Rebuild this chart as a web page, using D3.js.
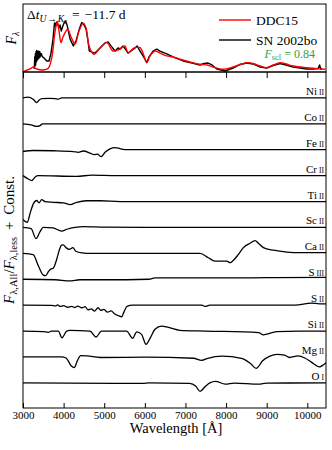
<!DOCTYPE html>
<html>
<head>
<meta charset="utf-8">
<script src="https://cdn.jsdelivr.net/npm/d3@7"></script>
<style>
  body { margin: 0; background: #fff; }
  svg text { font-family: "Liberation Serif", "DejaVu Serif", serif; }
</style>
</head>
<body>
<div id="chart"></div>
<script>
// wavelength ticks
var wlTicks = [3000, 4000, 5000, 6000, 7000, 8000, 9000, 10000];

// top panel, model and observed spectrum [wavelength, flux]
var ddc15 = [[3007,0.006],[3172,0.059],[3254,0.098],[3337,0.059],[3500,0.039],[3623,0.073],[3707,0.275],
  [3788,0.78],[3845,0.986],[3887,0.80],[3936,0.575],[3985,0.686],[4101,0.837],[4182,0.686],[4281,0.549],
  [4379,0.80],[4485,0.955],[4552,0.863],[4626,0.51],[4749,0.347],[4897,0.47],[5062,0.575],[5217,0.41],
  [5389,0.45],[5512,0.51],[5586,0.378],[5734,0.47],[5882,0.476],[5980,0.314],[6047,0.182],[6128,0.314],
  [6251,0.41],[6374,0.37],[6539,0.314],[6695,0.294],[6867,0.249],[7113,0.196],[7360,0.151],[7532,0.137],
  [7680,0.098],[7926,0.053],[8172,0.098],[8345,0.147],[8510,0.182],[8665,0.167],[8837,0.118],[9002,0.084],
  [9158,0.137],[9330,0.182],[9478,0.157],[9650,0.118],[9987,0.084],[10192,0.069],[10438,0.053]];

var sn2002bo = [[3278,0.059],[3290,0.30],[3298,0.12],[3306,0.36],[3313,0.14],[3321,0.40],[3328,0.20],
  [3337,0.42],[3345,0.22],[3354,0.38],[3362,0.25],[3372,0.41],[3382,0.26],[3391,0.39],[3401,0.28],
  [3410,0.40],[3419,0.29],[3430,0.37],[3443,0.32],[3455,0.36],[3468,0.31],[3517,0.275],[3584,0.216],
  [3640,0.216],[3690,0.37],[3739,0.647],[3776,0.96],[3800,0.90],[3825,0.98],[3850,0.94],[3870,0.90],
  [3887,0.863],[3911,0.92],[3943,0.80],[3973,0.88],[4010,0.96],[4047,1.0],[4084,0.92],[4158,0.647],
  [4239,0.51],[4305,0.608],[4387,0.843],[4446,0.97],[4502,0.92],[4552,0.843],[4601,0.608],[4633,0.41],
  [4700,0.39],[4773,0.37],[4897,0.47],[5020,0.569],[5094,0.588],[5167,0.51],[5266,0.41],[5340,0.47],
  [5389,0.45],[5463,0.51],[5537,0.43],[5586,0.37],[5660,0.41],[5759,0.47],[5808,0.51],[5882,0.41],
  [5956,0.314],[6047,0.186],[6103,0.294],[6202,0.41],[6293,0.45],[6374,0.41],[6539,0.353],[6695,0.294],
  [6941,0.216],[7163,0.176],[7360,0.137],[7458,0.167],[7557,0.176],[7655,0.137],[7771,0.059],[7877,0.039],
  [7975,0.02],[8074,0.049],[8172,0.078],[8345,0.147],[8510,0.176],[8665,0.157],[8837,0.098],[9002,0.078],
  [9158,0.127],[9330,0.167],[9478,0.137],[9650,0.098],[9822,0.078],[9987,0.059],[10143,0.059],
  [10266,0.069],[10303,0.137],[10328,0.059],[10365,0.069]];

// bottom panel, flux ratios F_All / F_less [wavelength, ratio]
var niII = [[3000,1.0],[3120,1.03],[3250,0.95],[3337,0.82],[3400,0.92],[3461,0.97],[3665,0.98],[3790,0.97],
  [3870,0.95],[3953,1.0],[10500,1.0]];
var coII = [[3000,1.0],[3200,0.96],[3337,0.9],[3420,0.93],[3480,1.0],[10500,1.0]];
var feII = [[3000,0.93],[3254,0.97],[3746,0.96],[4239,0.93],[4362,0.9],[4485,0.95],[4650,0.87],[4749,0.81],
  [4830,0.83],[4921,0.73],[5020,0.9],[5143,1.03],[5266,1.08],[5389,1.04],[5554,1.0],[10500,1.0]];
var crII = [[3000,1.0],[3130,0.87],[3215,0.81],[3300,0.95],[3370,1.0],[4320,0.97],[4700,1.02],[5300,1.0],[10500,1.0]];
var tiII = [[3000,0.31],[3025,0.27],[3106,0.2],[3172,0.53],[3254,0.91],[3337,1.04],[3394,0.95],[3461,1.07],
  [3542,1.0],[3739,0.97],[3993,0.95],[4158,0.88],[4322,0.97],[4569,1.03],[4897,1.03],[5389,1.0],[10500,1.0]];
var scII = [[3000,1.0],[3200,0.95],[3320,0.57],[3420,0.84],[3500,1.0],[3740,0.98],[3950,0.86],[4080,0.93],
  [4280,1.0],[4500,1.03],[5000,1.01],[6000,1.0],[10500,1.0]];
var caII = [[3000,1.0],[3250,0.95],[3380,0.51],[3500,0.16],[3560,0.14],[3620,0.28],[3690,0.40],[3740,0.42],
  [3830,0.77],[3900,1.16],[3950,1.32],[3990,1.33],[4060,1.22],[4140,1.15],[4230,1.22],[4300,1.08],[4450,1.02],
  [4700,1.0],[7360,1.0],[7564,0.83],[7729,0.70],[8017,0.70],[8098,0.64],[8180,0.73],[8303,0.96],[8426,1.22],
  [8591,1.39],[8714,1.49],[8796,1.39],[8919,1.22],[9165,1.12],[9495,1.05],[9822,1.03],[10500,1.03]];
var sIII = [[3000,1.0],[3800,0.98],[4150,0.94],[4400,0.98],[5000,0.98],[6100,1.0],[6250,1.05],[7000,1.05],
  [8000,1.05],[9000,1.06],[10500,1.07]];
var sII = [[3000,1.0],[3700,0.99],[3800,0.97],[3850,1.01],[3920,0.95],[4000,0.98],[4100,0.92],[4200,0.95],
  [4280,0.91],[4350,0.96],[4450,0.90],[4530,0.94],[4600,0.82],[4680,0.86],[4760,0.77],[4850,0.9],[4920,0.8],
  [4990,0.84],[5080,0.73],[5170,0.78],[5250,0.67],[5340,0.6],[5430,0.55],[5490,0.75],[5560,0.95],[5700,1.0],
  [7400,1.0],[7480,0.95],[7600,1.0],[9700,1.0],[10100,1.08],[10300,1.05],[10500,1.05]];
var siII = [[3000,1.0],[3500,0.98],[3620,0.95],[3700,1.0],[3870,1.0],[3960,0.74],[4070,0.99],[4150,1.03],
  [4650,1.0],[4800,0.77],[4930,1.0],[5550,1.0],[5700,0.72],[5800,0.97],[5920,0.87],[6030,0.49],[6130,0.73],
  [6250,1.07],[6410,1.19],[6580,1.14],[6860,1.03],[7500,1.0],[8800,0.94],[8920,0.85],[9000,0.88],[9250,0.98],
  [9800,1.0],[10500,1.0]];
var mgII = [[3000,1.0],[3950,1.0],[4060,0.96],[4190,0.65],[4260,0.59],[4340,0.86],[4420,1.05],[4580,1.04],
  [4900,0.98],[6000,0.99],[7200,0.95],[7400,0.87],[7550,0.95],[7900,1.03],[8380,0.95],[8600,0.75],[8740,0.56],
  [8900,0.85],[9080,1.03],[9250,1.1],[9440,1.07],[9560,0.98],[9770,1.04],[9950,0.95],[10100,0.8],[10300,0.62],
  [10400,0.7],[10500,0.82]];
var oI = [[3000,1.0],[5950,0.98],[6100,1.0],[7100,0.98],[7250,0.88],[7360,0.67],[7480,0.85],[7600,1.0],
  [7740,1.06],[7980,0.95],[8200,0.99],[8800,0.95],[9000,0.99],[10500,1.0]];

var ionNames = [["Ni","II"],["Co","II"],["Fe","II"],["Cr","II"],["Ti","II"],["Sc","II"],["Ca","II"],
  ["S","III"],["S","II"],["Si","II"],["Mg","II"],["O","I"]];
var ionRatios = [niII, coII, feII, crII, tiII, scII, caII, sIII, sII, siII, mgII, oI];

var W = 332, H = 450;
var left = 23, right = 326;
var topY0 = 4, topY1 = 72, botY1 = 408;

var svg = d3.select("#chart").append("svg")
  .attr("width", W)
  .attr("height", H);

var x = d3.scaleLinear().domain([3000, 10460]).range([left, right]);
var yTop = d3.scaleLinear().domain([0, 1.33]).range([topY1, topY0]);
var yBot = d3.scaleLinear().domain([-0.97, 12.0]).range([botY1, topY1]);

// clip paths
var defs = svg.append("defs");
defs.append("clipPath").attr("id", "clipTop").append("rect")
  .attr("x", left).attr("y", topY0).attr("width", right - left).attr("height", topY1 - topY0);
defs.append("clipPath").attr("id", "clipBot").append("rect")
  .attr("x", left).attr("y", topY1).attr("width", right - left).attr("height", botY1 - topY1);

// top panel spectra
var lineTop = d3.line().x(function(d){ return x(d[0]); }).y(function(d){ return yTop(d[1]); });
var gTop = svg.append("g").attr("clip-path", "url(#clipTop)");
gTop.append("path").datum(sn2002bo)
  .attr("d", lineTop).attr("fill", "none").attr("stroke", "#000").attr("stroke-width", 1.4)
  .attr("stroke-linejoin", "round");
gTop.append("path").datum(ddc15)
  .attr("d", lineTop.curve(d3.curveCatmullRom)).attr("fill", "none").attr("stroke", "#ff0000")
  .attr("stroke-width", 1.4);

// bottom panel ratios, offset by a constant each
var gBot = svg.append("g").attr("clip-path", "url(#clipBot)");
ionRatios.forEach(function(arr, i){
  var off = ionRatios.length - 1 - i;
  var line = d3.line()
    .x(function(d){ return x(d[0]); })
    .y(function(d){ return yBot(d[1] - 1 + off); })
    .curve(d3.curveMonotoneX);
  gBot.append("path").datum(arr)
    .attr("d", line).attr("fill", "none").attr("stroke", "#000").attr("stroke-width", 1.3);

  var lab = svg.append("text")
    .attr("x", right - 2).attr("y", yBot(off) - 3)
    .attr("text-anchor", "end").attr("font-size", 11);
  lab.append("tspan").text(ionNames[i][0]);
  lab.append("tspan").attr("font-size", 7.5).attr("dx", 2).text(ionNames[i][1]);
});

// frames
svg.append("rect").attr("x", left).attr("y", topY0).attr("width", right - left).attr("height", topY1 - topY0)
  .attr("fill", "none").attr("stroke", "#000").attr("stroke-width", 1);
svg.append("rect").attr("x", left).attr("y", topY1).attr("width", right - left).attr("height", botY1 - topY1)
  .attr("fill", "none").attr("stroke", "#000").attr("stroke-width", 1);

// x axis (bottom) and inward ticks on top of lower panel
var xAxis = d3.axisBottom(x).tickValues(wlTicks).tickSizeInner(-5).tickSizeOuter(0).tickPadding(3)
  .tickFormat(d3.format("d"));
var gx = svg.append("g").attr("transform", "translate(0," + botY1 + ")").call(xAxis);
gx.select(".domain").remove();
gx.selectAll("text").attr("font-size", 11);

var gx2 = svg.append("g").attr("transform", "translate(0," + topY1 + ")")
  .call(d3.axisBottom(x).tickValues(wlTicks).tickSizeInner(6).tickSizeOuter(0).tickFormat(""));
gx2.select(".domain").remove();

svg.append("text").attr("x", 176).attr("y", 433)
  .attr("text-anchor", "middle").attr("font-size", 14.5).text("Wavelength [Å]");

// y labels
var yl1 = svg.append("text").attr("transform", "translate(16,38) rotate(-90)")
  .attr("text-anchor", "middle").attr("font-size", 14);
yl1.append("tspan").attr("font-style", "italic").text("F");
yl1.append("tspan").attr("font-size", 10).attr("dy", 3).attr("font-style", "italic").text("λ");

var yl2 = svg.append("text").attr("transform", "translate(14,240) rotate(-90)")
  .attr("text-anchor", "middle").attr("font-size", 15);
yl2.append("tspan").attr("font-style", "italic").text("F");
yl2.append("tspan").attr("font-size", 10.5).attr("dy", 3).text("λ,All");
yl2.append("tspan").attr("dy", -3).text("/");
yl2.append("tspan").attr("font-style", "italic").text("F");
yl2.append("tspan").attr("font-size", 10.5).attr("dy", 3).text("λ,less");
yl2.append("tspan").attr("dy", -3).attr("dx", 3).text(" + ");
yl2.append("tspan").attr("dx", 3).text("Const.");

// annotation
var ann = svg.append("text").attr("x", 27).attr("y", 19).attr("font-size", 13.5);
ann.append("tspan").text("Δ");
ann.append("tspan").attr("font-style", "italic").text("t");
ann.append("tspan").attr("font-size", 9.5).attr("dy", 3).attr("font-style", "italic").text("U");
ann.append("tspan").attr("font-size", 9.5).attr("dx", 1).text("→");
ann.append("tspan").attr("font-size", 9.5).attr("dx", 1).attr("font-style", "italic").text("K");
ann.append("tspan").attr("font-size", 7.5).attr("dy", 1.5).attr("font-style", "italic").text("s");
ann.append("tspan").attr("dy", -4.5).attr("dx", 5).text("=");
ann.append("tspan").attr("dx", 5).text("−11.7 d");

// legend
svg.append("line").attr("x1", 219).attr("x2", 251).attr("y1", 20).attr("y2", 20)
  .attr("stroke", "#ff0000").attr("stroke-width", 1.4);
svg.append("text").attr("x", 256).attr("y", 25).attr("font-size", 13.5).text("DDC15");
svg.append("line").attr("x1", 219).attr("x2", 251).attr("y1", 40).attr("y2", 40)
  .attr("stroke", "#000").attr("stroke-width", 1.4);
svg.append("text").attr("x", 256).attr("y", 44.5).attr("font-size", 13.5).text("SN 2002bo");

var fs = svg.append("text").attr("x", 315).attr("y", 58).attr("text-anchor", "end")
  .attr("font-size", 12).attr("fill", "#3a9e3a");
fs.append("tspan").attr("font-style", "italic").text("F");
fs.append("tspan").attr("font-size", 8.5).attr("dy", 2).text("scl");
fs.append("tspan").attr("dy", -2).text(" = 0.84");
</script>
</body>
</html>
